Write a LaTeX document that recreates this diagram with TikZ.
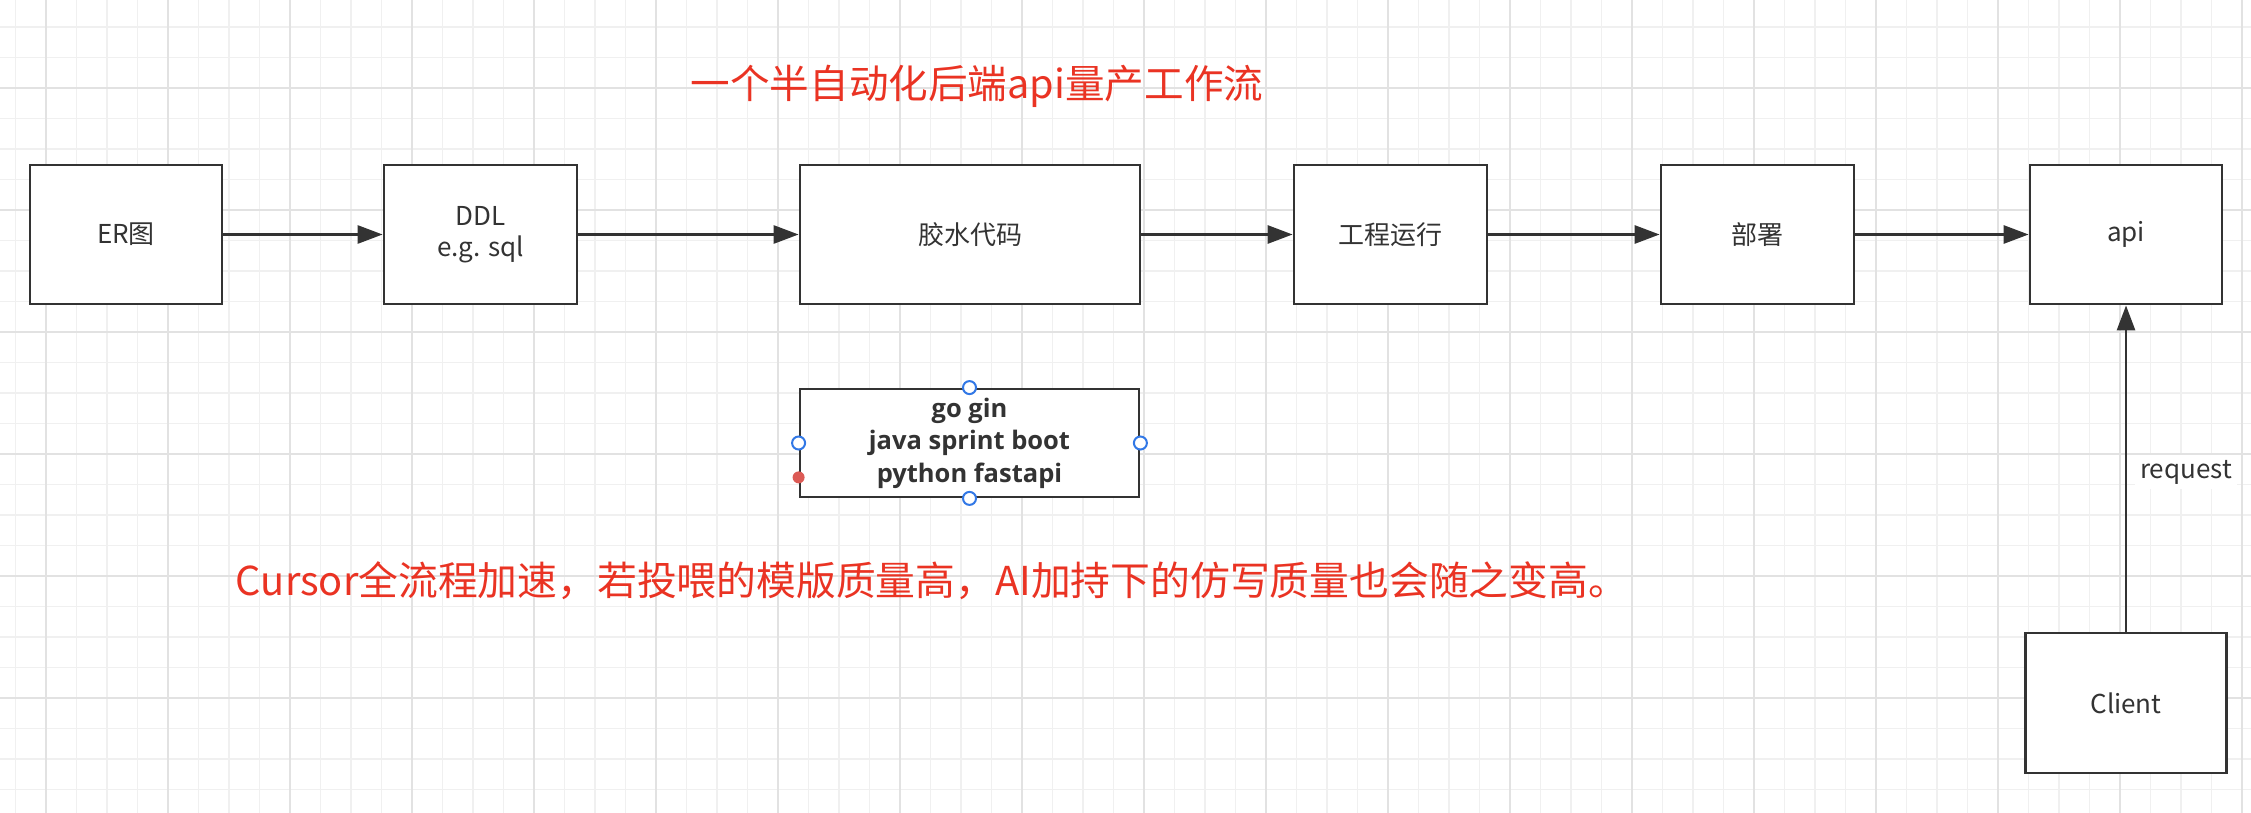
\documentclass[tikz,border=0pt]{standalone}
\usepackage{fontspec}
\setmainfont{Noto Sans CJK SC}
\newfontfamily\latfont{Open Sans}
\usetikzlibrary{arrows.meta}
\definecolor{ink}{RGB}{51,51,51}
\definecolor{redtxt}{RGB}{234,51,35}
\definecolor{gridminor}{RGB}{240,240,240}
\definecolor{gridmajor}{RGB}{226,226,226}
\definecolor{handleblue}{RGB}{50,120,230}
\definecolor{reddot}{RGB}{220,90,85}
\begin{document}
\begin{tikzpicture}[x=1pt,y=-1pt,
  box/.style={draw=ink, line width=2.8pt, fill=white, inner sep=0pt, text=ink,
    font=\fontsize{26}{31}\selectfont, align=center},
  flow/.style={draw=ink, line width=2.8pt, -{Triangle[length=25pt,width=18pt]}},
  redtitle/.style={text=redtxt, inner sep=0pt, anchor=center},
  hnd/.style={circle, draw=handleblue, fill=white, line width=2pt, minimum size=13pt, inner sep=0pt},
  rdot/.style={circle, fill=reddot, minimum size=12pt, inner sep=0pt},
  minorline/.style={draw=gridminor, line width=1.8pt},
  majorline/.style={draw=gridmajor, line width=2.4pt},
]
\useasboundingbox[fill=white] (0,0) rectangle (2251,813);
% grid
\foreach \i in {0,...,73} {\draw[minorline] ({15.5+30.5*\i},0) -- ({15.5+30.5*\i},813);}
\foreach \j in {0,...,25} {\draw[minorline] (0,{27+30.5*\j}) -- (2251,{27+30.5*\j});}
\foreach \i in {0,...,18} {\draw[majorline] ({46+122*\i},0) -- ({46+122*\i},813);}
\foreach \j in {0,...,5} {\draw[majorline] (0,{88+122*\j}) -- (2251,{88+122*\j});}

% titles
\node[redtitle, font=\fontsize{39.6}{46}\selectfont] (t1) at (977,86) {一个半自动化后端api量产工作流};
\node[redtitle, font=\fontsize{39.8}{46}\selectfont] (t2) at (932,581) {Cursor全流程加速，若投喂的模版质量高，AI加持下的仿写质量也会随之变高。};

% boxes
\node[box, minimum width=192pt, minimum height=139pt] (er) at (126,234.5) {ER图};
\node[box, minimum width=193pt, minimum height=139pt] (ddl) at (480.5,234.5) {DDL\\e.g. sql};
\node[box, minimum width=340pt, minimum height=139pt] (glue) at (970,234.5) {胶水代码};
\node[box, minimum width=193pt, minimum height=139pt] (run) at (1390.5,234.5) {工程运行};
\node[box, minimum width=193pt, minimum height=139pt] (dep) at (1757.5,234.5) {部署};
\node[box, minimum width=192pt, minimum height=139pt] (api) at (2126,234.5) {api};
\node[box, minimum width=201pt, minimum height=140pt] (client) at (2126,703) {Client};
\node[box, minimum width=339pt, minimum height=108pt, font=\latfont\bfseries\fontsize{25.5}{32.5}\selectfont] (gogin) at (969.5,443) {go gin\\java sprint boot\\python fastapi};

% connectors
\draw[flow] (er.east) -- (ddl.west);
\draw[flow] (ddl.east) -- (glue.west);
\draw[flow] (glue.east) -- (run.west);
\draw[flow] (run.east) -- (dep.west);
\draw[flow] (dep.east) -- (api.west);
\draw[flow] (client.north) -- (api.south);
\node[fill=white, text=ink, inner sep=5pt, font=\fontsize{26}{30}\selectfont] (req) at (2186,472) {request};

% selection handles
\node[hnd] (hn) at (gogin.north) {};
\node[hnd] (hs) at (gogin.south) {};
\node[hnd] (hw) at (gogin.west) {};
\node[hnd] (he) at (gogin.east) {};
\node[rdot] (hr) at ([yshift=21pt]gogin.south west) {};
\end{tikzpicture}
\end{document}
